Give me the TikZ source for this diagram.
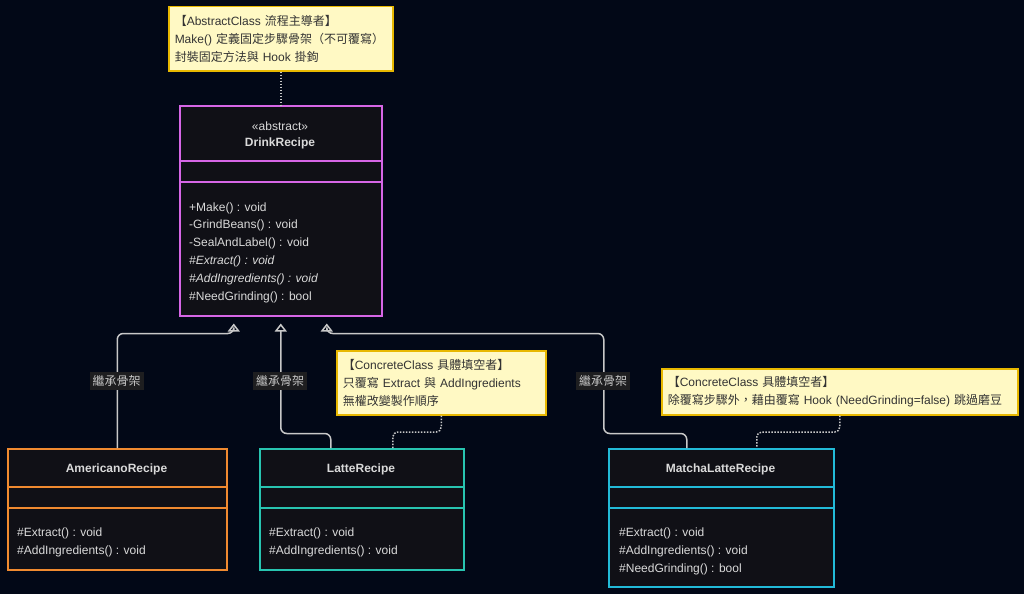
\documentclass[tikz,border=0pt]{standalone}
\usepackage{fontspec}
\setmainfont{Liberation Sans}
\newfontfamily\cjk{Noto Sans CJK TC}
\usetikzlibrary{arrows.meta}

\definecolor{bgnavy}{RGB}{2,8,23}
\definecolor{classfill}{RGB}{16,16,22}
\definecolor{classtext}{RGB}{218,218,218}
\definecolor{drinkborder}{RGB}{214,102,230}
\definecolor{amerborder}{RGB}{240,138,48}
\definecolor{latteborder}{RGB}{40,196,176}
\definecolor{matchaborder}{RGB}{34,186,216}
\definecolor{notefill}{RGB}{255,249,196}
\definecolor{notedraw}{RGB}{232,184,0}
\definecolor{notetext}{RGB}{51,51,51}
\definecolor{edgegray}{RGB}{200,200,200}
\definecolor{labelfill}{RGB}{30,30,32}

\tikzset{
	classbox/.style={draw, line width=1.5pt, fill=classfill, anchor=north west, inner sep=0pt},
	classname/.style={font=\bfseries, text=classtext},
	member/.style={anchor=west, text=classtext, inner sep=0pt},
	notebox/.style={draw=notedraw, fill=notefill, line width=1.5pt, anchor=north west,
		align=left, text=notetext, inner xsep=6pt, inner ysep=0pt},
	inherit/.style={draw=edgegray, line width=1.5pt, rounded corners=6pt,
		-{Triangle[open, length=8pt, width=12pt]}},
	notelink/.style={draw=edgegray, line width=1.5pt, dash pattern=on 1.5pt off 1.5pt, rounded corners=5pt},
	edgelabel/.style={fill=labelfill, text=edgegray, inner xsep=3pt, inner ysep=3pt}
}

\begin{document}
\fontsize{12}{18}\selectfont
\begin{tikzpicture}[x=1pt, y=-1pt]

	\useasboundingbox (0,0) rectangle (1024,594);
	\fill[bgnavy] (0,0) rectangle (1024,594);

	% notes
	\node[notebox, minimum width=224pt, minimum height=64pt, text width=212pt] (note1) at (168,6)
		{{\cjk 【}AbstractClass {\cjk 流程主導者】}\\
		 Make() {\cjk 定義固定步驟骨架（不可覆寫）}\\
		 {\cjk 封裝固定方法與} Hook {\cjk 掛鉤}};
	\node[notebox, minimum width=209pt, minimum height=64pt, text width=197pt] (note2) at (336,350)
		{{\cjk 【}ConcreteClass {\cjk 具體填空者】}\\
		 {\cjk 只覆寫} Extract {\cjk 與} AddIngredients\\
		 {\cjk 無權改變製作順序}};
	\node[notebox, minimum width=356pt, minimum height=46pt, text width=344pt] (note3) at (661,368)
		{{\cjk 【}ConcreteClass {\cjk 具體填空者】}\\
		 {\cjk 除覆寫步驟外，藉由覆寫} Hook (NeedGrinding=false) {\cjk 跳過磨豆}};

	% abstract class
	\node[classbox, draw=drinkborder, minimum width=202pt, minimum height=210pt] (drink) at (179,105) {};
	\draw[drinkborder, line width=1.5pt] ([yshift=-56pt]drink.north west) -- ([yshift=-56pt]drink.north east);
	\draw[drinkborder, line width=1.5pt] ([yshift=-77pt]drink.north west) -- ([yshift=-77pt]drink.north east);
	\node[text=classtext] (drinkstereo) at (280,126) {«abstract»};
	\node[classname] (drinkname) at (280,143) {DrinkRecipe};
	\foreach \txt [count=\i from 0] in {+Make() : void, -GrindBeans() : void, -SealAndLabel() : void,
		{\itshape\#Extract() : void}, {\itshape\#AddIngredients() : void}, \#NeedGrinding() : bool}
		\node[member] (drinkm\i) at (189,208+17.8*\i) {\txt};

	% concrete classes
	\node[classbox, draw=amerborder, minimum width=219pt, minimum height=121pt] (amer) at (7,448) {};
	\draw[amerborder, line width=1.5pt] ([yshift=-39pt]amer.north west) -- ([yshift=-39pt]amer.north east);
	\draw[amerborder, line width=1.5pt] ([yshift=-60pt]amer.north west) -- ([yshift=-60pt]amer.north east);
	\node[classname] (amername) at (116.5,469) {AmericanoRecipe};
	\node[member] (amerm0) at (17,533) {\#Extract() : void};
	\node[member] (amerm1) at (17,551) {\#AddIngredients() : void};

	\node[classbox, draw=latteborder, minimum width=204pt, minimum height=121pt] (latte) at (259,448) {};
	\draw[latteborder, line width=1.5pt] ([yshift=-39pt]latte.north west) -- ([yshift=-39pt]latte.north east);
	\draw[latteborder, line width=1.5pt] ([yshift=-60pt]latte.north west) -- ([yshift=-60pt]latte.north east);
	\node[classname] (lattename) at (361,469) {LatteRecipe};
	\node[member] (lattem0) at (269,533) {\#Extract() : void};
	\node[member] (lattem1) at (269,551) {\#AddIngredients() : void};

	\node[classbox, draw=matchaborder, minimum width=225pt, minimum height=138pt] (matcha) at (608,448) {};
	\draw[matchaborder, line width=1.5pt] ([yshift=-39pt]matcha.north west) -- ([yshift=-39pt]matcha.north east);
	\draw[matchaborder, line width=1.5pt] ([yshift=-60pt]matcha.north west) -- ([yshift=-60pt]matcha.north east);
	\node[classname] (matchaname) at (720.5,469) {MatchaLatteRecipe};
	\node[member] (matcham0) at (619,533) {\#Extract() : void};
	\node[member] (matcham1) at (619,551) {\#AddIngredients() : void};
	\node[member] (matcham2) at (619,569) {\#NeedGrinding() : bool};

	% inheritance
	\draw[inherit] (amer.north) |- ([xshift=-47pt,yshift=-17pt]drink.south)
		[sharp corners] -- ([xshift=-47pt,yshift=-7pt]drink.south);
	\draw[inherit] ([xshift=-31pt]latte.north) |- ([yshift=-117pt]drink.south)
		-- ([yshift=-7pt]drink.south);
	\draw[inherit] ([xshift=-34.5pt]matcha.north) |- ([xshift=323pt,yshift=-117pt]drink.south)
		|- ([xshift=46pt,yshift=-17pt]drink.south)
		[sharp corners] -- ([xshift=46pt,yshift=-7pt]drink.south);
	\node[edgelabel] (lblamer) at (116.5,381) {\cjk 繼承骨架};
	\node[edgelabel] (lbllatte) at (280,381) {\cjk 繼承骨架};
	\node[edgelabel] (lblmatcha) at (603,381) {\cjk 繼承骨架};

	% note links
	\draw[notelink] (note1.south) -- (drink.north);
	\draw[notelink] (note2.south) |- ([xshift=31pt,yshift=16pt]latte.north) -- ([xshift=31pt]latte.north);
	\draw[notelink] (note3.south) |- ([xshift=35.5pt,yshift=16pt]matcha.north) -- ([xshift=35.5pt]matcha.north);

\end{tikzpicture}
\end{document}
